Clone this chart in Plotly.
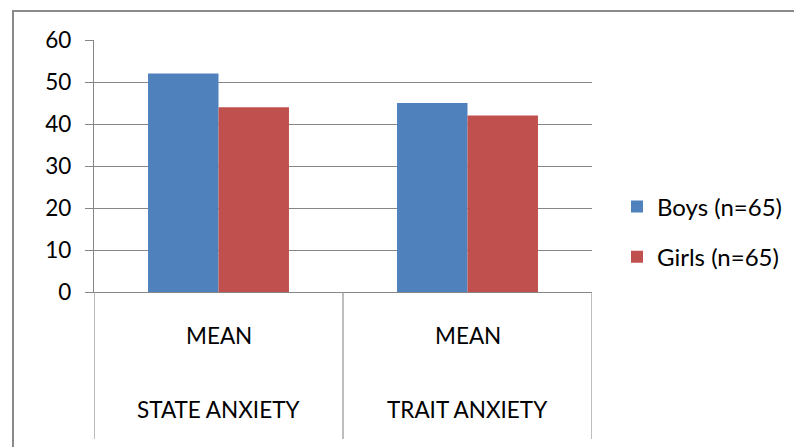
import plotly.graph_objects as go

categories = ["STATE ANXIETY", "TRAIT ANXIETY"]
sub_label = "MEAN"
boys = [52, 45]
girls = [44, 42]
series_names = ["Boys (n=65)", "Girls (n=65)"]
colors = ["#4F81BD", "#C0504D"]

FONT = "Lato"
FS = 22.5
W, H = 794, 447
L, R, T, B = 94, 202, 40, 155
ph = H - T - B

def py(pix):
    return (H - B - pix) / ph

def px(pix):
    return (pix - L) / (W - L - R)

fig = go.Figure()
for i, (name, vals) in enumerate(zip(series_names, [boys, girls])):
    fig.add_trace(go.Bar(x=categories, y=vals, name=name,
                         marker=dict(color=colors[i], line=dict(width=0)),
                         legendgroup=name))

shapes = []
# category dividers in the label area
for xv in [-0.5, 0.5, 1.5]:
    shapes.append(dict(type="line", xref="x", yref="paper", x0=xv, x1=xv,
                       y0=0, y1=py(439), line=dict(color="#9a9a9a", width=1.3)))
# outer chart border
shapes.append(dict(type="rect", xref="paper", yref="paper",
                   x0=px(13), x1=px(900), y0=py(600), y1=py(11),
                   line=dict(color="#8a8a8a", width=2), layer="below"))

annotations = []
for c in categories:
    annotations.append(dict(x=c, xref="x", y=py(335), yref="paper", text=sub_label,
                            yanchor="middle", showarrow=False,
                            font=dict(family=FONT, size=FS, color="black")))
    annotations.append(dict(x=c, xref="x", y=py(409), yref="paper", text=c,
                            yanchor="middle", showarrow=False,
                            font=dict(family=FONT, size=FS, color="black")))

fig.update_layout(
    width=W, height=H,
    margin=dict(l=L, r=R, t=T, b=B, pad=0, autoexpand=False),
    paper_bgcolor="white", plot_bgcolor="white",
    barmode="group", bargap=0.434, bargroupgap=0,
    font=dict(family=FONT, size=FS, color="black"),
    showlegend=True,
    legend=dict(x=px(617), xanchor="left", y=py(232), yanchor="middle",
                font=dict(family=FONT, size=24, color="black"),
                tracegroupgap=16, bgcolor="rgba(0,0,0,0)", itemwidth=30),
    shapes=shapes, annotations=annotations,
    xaxis=dict(showticklabels=False, ticks="", showgrid=False,
               showline=True, linecolor="#868686", linewidth=1.3,
               range=[-0.5, 1.5], zeroline=False),
    yaxis=dict(range=[0, 60], dtick=10, showgrid=True, gridcolor="#868686", gridwidth=1.3,
               ticks="outside", ticklen=8, tickcolor="#868686", tickwidth=1.3,
               showline=True, linecolor="#868686", linewidth=1.3,
               zeroline=False, ticklabelstandoff=9,
               tickfont=dict(family=FONT, size=FS, color="black")),
)

fig.write_html("out.html")
